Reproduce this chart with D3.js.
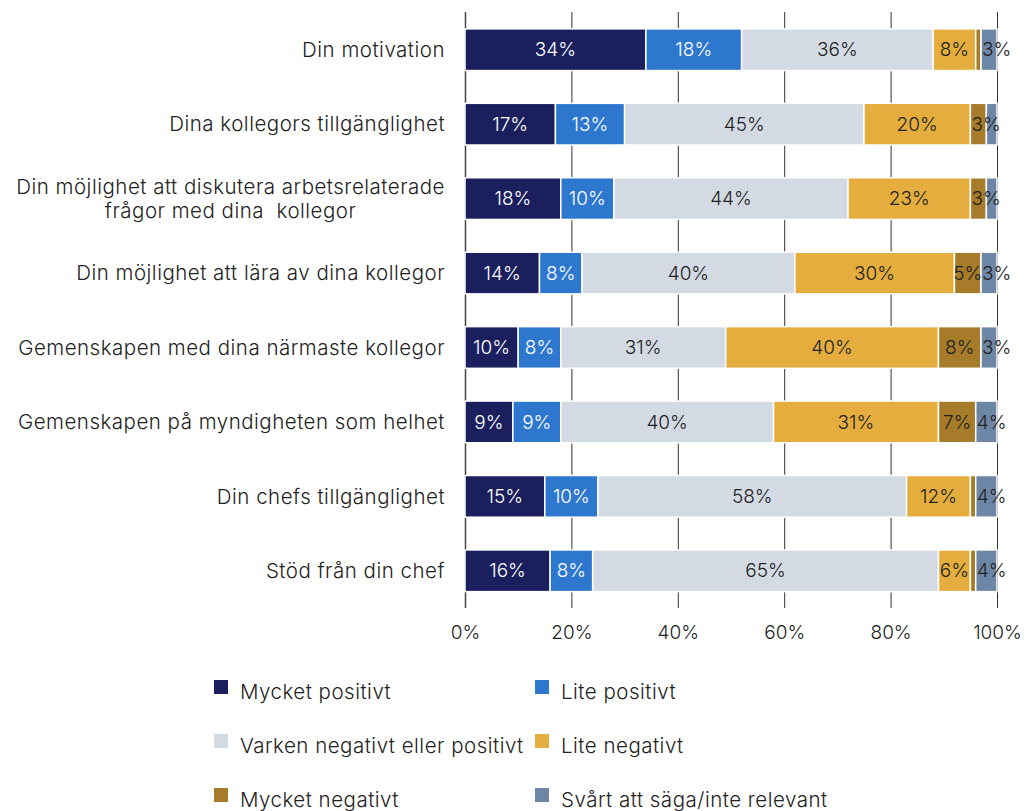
<!DOCTYPE html>
<html><head><meta charset="utf-8">
<script src="https://cdn.jsdelivr.net/npm/d3@7"></script>
<style>body{margin:0;background:#fff}svg{display:block}text{font-family:Inter,"Liberation Sans",sans-serif;font-weight:300}</style>
</head><body>
<script>
const categories = [
  ["Din motivation"],
  ["Dina kollegors tillgänglighet"],
  ["Din möjlighet att diskutera arbetsrelaterade","frågor med dina  kollegor"],
  ["Din möjlighet att lära av dina kollegor"],
  ["Gemenskapen med dina närmaste kollegor"],
  ["Gemenskapen på myndigheten som helhet"],
  ["Din chefs tillgänglighet"],
  ["Stöd från din chef"]
];
const seriesNames = ["Mycket positivt","Lite positivt","Varken negativt eller positivt","Lite negativt","Mycket negativt","Svårt att säga/inte relevant"];
const mycketPositivt = [34,17,18,14,10,9,15,16];
const litePositivt   = [18,13,10,8,8,9,10,8];
const varken         = [36,45,44,40,31,40,58,65];
const liteNegativt   = [8,20,23,30,40,31,12,6];
const mycketNegativt = [1,3,3,5,8,7,1,1];
const svart          = [3,2,2,3,3,4,4,4];
const xTicks = [0,20,40,60,80,100];
const colors = ["#1b1f5e","#2e77cf","#d3dae4","#e4ad3d","#a67c2b","#6e86a5"];
const textColors = ["#fff","#fff","#222","#222","#222","#222"];
const seriesValues = [mycketPositivt,litePositivt,varken,liteNegativt,mycketNegativt,svart];

const W=1026,H=811;
const FONT='Inter,"Liberation Sans",sans-serif';
const svg=d3.select("body").append("svg").attr("width",W).attr("height",H);
const x=d3.scaleLinear().domain([0,100]).range([465,997]);
const y=d3.scaleBand().domain(d3.range(categories.length)).range([12.5,608]).paddingInner(0.44).paddingOuter(0.22);
const fs=19, fsL=20.5, ls="0.5px";

// gridlines
svg.append("g").selectAll("line").data(xTicks).join("line")
  .attr("x1",d=>x(d)+0.5).attr("x2",d=>x(d)+0.5).attr("y1",12).attr("y2",608)
  .attr("stroke",d=>d===0?"#444":"#333").attr("stroke-width",d=>d===0?1.5:1);

// x axis labels
const xa=svg.append("g").attr("transform","translate(0,608)")
  .call(d3.axisBottom(x).tickValues(xTicks).tickFormat(d=>d+"%").tickSize(0).tickPadding(18));
xa.select(".domain").remove();
xa.selectAll("text").attr("font-size",fs).attr("fill","#222").style("font-family",FONT).style("font-weight",300);

// stacked data
const rows=categories.map((c,i)=>{let acc=0;return seriesValues.map((s,k)=>{const v=s[i];const o={i,k,v,x0:acc,x1:acc+v};acc+=v;return o;});});
const g=svg.append("g");
rows.forEach(r=>{
  g.selectAll(null).data(r).join("rect")
   .attr("x",d=>x(d.x0)).attr("width",d=>x(d.x1)-x(d.x0))
   .attr("y",d=>y(d.i)).attr("height",y.bandwidth())
   .attr("fill",d=>colors[d.k]).attr("stroke","#fff").attr("stroke-width",1.5);
});
rows.forEach(r=>{
  r.filter(d=>d.v>=3).forEach(d=>{
    const t=g.append("text").text(d.v+"%").attr("font-size",fs).attr("fill",textColors[d.k])
      .attr("y",y(d.i)+y.bandwidth()/2).attr("dy","0.35em");
    const w=t.node().getComputedTextLength();
    const segW=x(d.x1)-x(d.x0);
    if(w>segW+4 && d.k>=4){t.attr("x",x(d.x0)+1).attr("text-anchor","start");}
    else{t.attr("x",(x(d.x0)+x(d.x1))/2).attr("text-anchor","middle");}
  });
});

// category labels
categories.forEach((lines,i)=>{
  const cy=y(i)+y.bandwidth()/2;
  const lh=24;
  const gg=svg.append("g");
  const ts=lines.map((l,j)=>gg.append("text").text(l).attr("font-size",fsL).attr("fill","#222")
     .style("letter-spacing",ls)
     .attr("y",cy+(j-(lines.length-1)/2)*lh).attr("dy","0.35em").style("white-space","pre"));
  const maxW=d3.max(ts,t=>t.node().getBoundingClientRect().width);
  const cx=445-maxW/2;
  ts.forEach(t=>t.attr("x",cx).attr("text-anchor","middle"));
});

// legend
const legPos=[[214,692],[535,692],[214,746],[535,746],[214,800],[535,800]];
seriesNames.forEach((n,k)=>{
  const [lx,ly]=legPos[k];
  svg.append("rect").attr("x",lx).attr("y",ly-12).attr("width",14).attr("height",14).attr("fill",colors[k]);
  svg.append("text").attr("x",lx+26).attr("y",ly).attr("dy","0.32em").attr("font-size",fsL)
    .style("letter-spacing",ls).attr("fill","#222").text(n);
});
</script>
</body></html>
